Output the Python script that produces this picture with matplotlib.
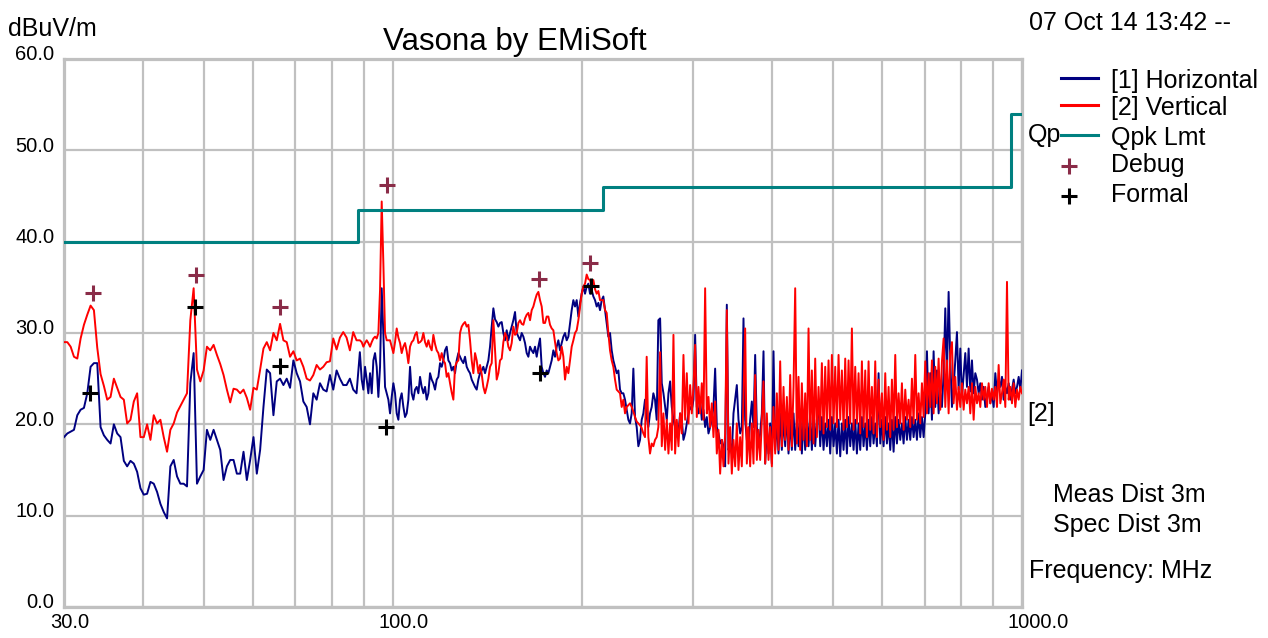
import numpy as np
import matplotlib
matplotlib.use("Agg")
import matplotlib.pyplot as plt
from matplotlib.lines import Line2D
from matplotlib.ticker import NullFormatter
import matplotlib.transforms as mtransforms

# ---- data ----
# sweep split in three bands, each sampled at even spacing on the log axis
band_edges = [(30.0, 88.6), (89.2, 264.2), (265.9, 1000.0)]

horiz_b1 = [18.6, 19.0, 19.2, 19.4, 21.0, 21.6, 21.8, 23.4, 26.3, 26.7,
            26.7, 19.7, 18.8, 18.3, 17.9, 20.0, 19.0, 18.6, 16.0, 15.4,
            16.0, 15.7, 14.8, 13.0, 12.3, 12.4, 13.7, 13.5, 12.6, 11.3,
            10.4, 9.7, 15.4, 16.1, 14.3, 13.5, 13.5, 13.2, 24.5, 27.8,
            13.5, 14.3, 15.0, 19.4, 18.3, 19.4, 18.3, 17.2, 13.9, 15.4,
            16.1, 16.1, 14.6, 14.6, 17.0, 13.9, 16.1, 18.6, 14.6, 17.2,
            21.9, 26.0, 25.6, 21.0, 24.7, 25.0, 24.3, 25.0, 24.0, 27.0,
            25.6, 24.7, 22.5, 21.9, 20.0, 23.4, 22.7, 24.5, 23.8, 23.6,
            25.4, 23.8, 25.9, 25.0, 24.3, 24.3, 25.0, 23.8, 23.4, 27.9]
horiz_b2 = [24.9, 23.8, 26.3, 24.9, 23.4, 25.6, 23.4, 27.0, 27.8, 26.3,
            23.0, 26.3, 34.9, 29.9, 24.1, 23.4, 22.7, 21.2, 23.0, 24.5,
            23.4, 21.2, 20.5, 22.7, 23.4, 21.9, 20.8, 21.2, 22.7, 26.3,
            23.4, 22.7, 23.8, 24.1, 23.4, 25.2, 24.1, 23.4, 24.1, 22.7,
            23.4, 25.6, 24.9, 24.5, 23.8, 24.9, 25.2, 26.7, 26.3, 27.0,
            28.1, 28.5, 27.0, 26.7, 25.9, 26.3, 25.6, 27.0, 27.8, 27.4,
            27.0, 26.7, 27.4, 26.3, 25.9, 25.6, 24.9, 24.5, 24.1, 23.8,
            24.9, 25.6, 25.9, 26.3, 25.6, 26.3, 27.0, 28.5, 30.7, 32.7,
            31.5, 31.2, 30.7, 31.1, 31.2, 30.0, 29.2, 30.3, 29.2, 30.0,
            30.7, 31.4, 32.3, 30.0, 29.6, 29.2, 30.0, 29.6, 28.9, 27.8,
            27.4, 28.5, 28.1, 27.8, 28.5, 27.4, 28.5, 29.4, 26.3, 25.6,
            25.2, 25.9, 25.6, 26.3, 27.0, 28.1, 27.4, 28.5, 29.2, 28.1,
            28.9, 29.6, 30.0, 29.2, 29.6, 31.1, 32.5, 33.6, 32.9, 33.6,
            31.8, 33.3, 34.3, 35.1, 34.3, 35.1, 35.4, 34.3, 34.7, 34.0,
            33.6, 32.9, 33.3, 32.5, 33.6, 34.0, 32.5, 31.1, 29.6, 30.0,
            28.1, 27.0, 26.3, 25.6, 25.9, 23.8, 23.4, 23.4, 22.7, 21.6,
            20.5, 20.1, 21.2, 26.1, 20.8, 19.7, 17.6, 18.3, 20.5, 21.2,
            22.7, 20.8, 19.7, 21.2, 21.9, 23.4, 22.7, 20.5, 31.4]
horiz_b3 = [31.6, 24.5, 23.4, 21.9, 20.5, 23.4, 24.7, 21.9, 20.5, 19.7,
            20.1, 19.0, 21.2, 20.5, 18.3, 19.0, 20.1, 21.2, 21.9, 21.6,
            22.7, 29.8, 21.9, 21.2, 22.7, 20.5, 21.6, 19.7, 20.8, 19.0,
            19.7, 20.5, 21.9, 26.1, 19.7, 19.0, 17.9, 18.3, 17.6, 15.4,
            33.1, 17.2, 17.9, 16.8, 21.2, 22.7, 24.3, 20.5, 19.0, 19.7,
            31.6, 20.5, 18.3, 17.6, 20.5, 22.5, 19.7, 27.6, 19.7, 17.6,
            19.0, 21.2, 28.0, 15.7, 19.4, 16.8, 20.1, 15.7, 28.0, 17.2,
            20.5, 16.8, 21.2, 17.2, 20.8, 17.6, 21.2, 16.8, 20.5, 17.2,
            21.2, 17.2, 20.5, 17.6, 21.6, 16.8, 20.8, 17.2, 21.2, 17.6,
            20.8, 17.2, 21.2, 17.6, 20.5, 22.3, 17.6, 20.8, 17.2, 20.1,
            17.6, 20.5, 16.8, 20.8, 17.6, 20.1, 16.8, 20.5, 16.5, 20.1,
            17.2, 20.5, 16.8, 20.8, 17.6, 20.1, 17.2, 20.5, 16.8, 20.1,
            17.2, 20.8, 17.6, 20.1, 17.2, 20.5, 17.6, 20.8, 17.9, 20.1,
            17.6, 25.6, 17.9, 20.5, 17.6, 20.8, 17.9, 20.1, 17.2, 20.5,
            17.0, 20.8, 17.9, 20.5, 18.3, 20.1, 17.9, 20.8, 18.3, 20.5,
            18.3, 20.8, 18.6, 20.5, 18.3, 21.2, 18.6, 20.8, 18.6, 21.2,
            28.0, 21.2, 25.6, 20.5, 28.0, 21.9, 25.9, 21.2, 23.4, 21.9,
            25.6, 32.7, 25.2, 34.5, 27.0, 21.9, 24.1, 27.0, 30.1, 23.8,
            28.3, 23.0, 25.4, 27.8, 24.1, 28.3, 23.6, 27.0, 23.4, 25.6,
            24.9, 23.4, 24.5, 22.7, 24.1, 21.9, 23.0, 24.1, 22.3, 23.4,
            21.9, 25.6, 23.4, 24.9, 24.1, 25.2, 22.7, 24.1, 23.4, 24.5,
            22.7, 23.8, 24.9, 23.4, 24.1, 25.2, 23.8, 25.9]

vert_b1 = [29.0, 29.0, 28.5, 27.4, 27.2, 29.4, 30.9, 32.0, 33.0, 32.5,
           28.4, 25.5, 24.2, 22.7, 23.0, 25.0, 24.0, 23.0, 22.7, 20.1,
           20.5, 22.5, 23.4, 18.6, 18.6, 20.0, 18.3, 21.0, 20.1, 20.5,
           18.6, 17.0, 19.4, 20.1, 21.3, 22.0, 22.7, 23.4, 31.4, 34.9,
           26.0, 24.7, 25.9, 28.5, 28.1, 28.7, 27.6, 26.6, 25.4, 23.8,
           22.4, 23.9, 23.8, 23.4, 23.8, 22.9, 21.6, 24.0, 23.8, 26.0,
           28.3, 29.0, 28.1, 30.0, 29.2, 31.0, 29.2, 29.0, 27.4, 28.0,
           27.0, 27.2, 26.3, 25.0, 24.8, 25.4, 26.5, 26.0, 26.3, 26.8,
           26.9, 29.4, 28.2, 29.5, 30.1, 29.5, 28.1, 30.1, 29.2, 29.2]
vert_b2 = [29.0, 28.5, 28.9, 29.2, 28.9, 28.5, 29.0, 29.4, 29.6, 29.4,
           30.0, 34.7, 44.4, 37.6, 30.0, 29.2, 29.2, 29.2, 28.5, 27.8,
           29.0, 30.5, 29.5, 28.9, 27.8, 28.5, 28.9, 28.0, 26.7, 28.5,
           29.0, 29.2, 29.8, 30.1, 28.9, 29.0, 29.2, 30.0, 29.0, 28.5,
           29.2, 28.5, 28.1, 29.8, 28.8, 28.1, 27.8, 27.0, 27.8, 27.0,
           26.7, 25.2, 25.6, 24.5, 23.5, 22.7, 26.3, 26.8, 27.0, 30.0,
           30.7, 31.0, 31.2, 30.7, 30.9, 29.2, 27.0, 25.6, 27.8, 27.0,
           25.6, 26.5, 25.5, 24.1, 23.4, 24.1, 25.0, 26.3, 26.7, 31.4,
           28.1, 24.9, 25.6, 27.0, 27.2, 29.0, 30.0, 29.6, 28.5, 28.1,
           28.9, 30.7, 29.8, 30.0, 31.1, 31.4, 31.0, 30.9, 31.6, 32.0,
           32.2, 31.4, 32.5, 32.9, 33.6, 34.2, 34.5, 33.6, 32.9, 31.1,
           31.1, 31.8, 31.8, 30.9, 30.5, 30.3, 29.0, 27.8, 27.0, 27.2,
           28.5, 27.4, 24.9, 26.3, 25.6, 27.0, 28.5, 29.2, 30.0, 30.3,
           31.4, 32.9, 34.3, 35.1, 35.4, 36.4, 35.9, 35.8, 35.1, 35.8,
           34.8, 34.3, 34.6, 33.6, 33.6, 33.6, 32.5, 32.2, 30.0, 28.1,
           27.0, 26.3, 24.9, 23.8, 23.6, 23.4, 21.9, 22.7, 21.2, 21.9,
           22.1, 22.3, 21.9, 21.4, 20.8, 20.3, 20.1, 19.9, 19.6, 19.0,
           18.6, 27.4, 18.6, 16.8, 17.9, 17.6, 18.3, 18.6, 19.7]
vert_b3 = [27.9, 17.6, 21.2, 17.2, 20.5, 16.8, 20.1, 17.2, 29.8, 16.8,
           20.5, 17.6, 21.2, 19.0, 27.6, 20.5, 25.6, 20.1, 24.3, 21.2,
           24.1, 28.7, 20.8, 24.1, 21.2, 24.5, 20.5, 34.9, 21.2, 23.0,
           19.7, 22.3, 18.6, 22.5, 16.8, 19.4, 14.6, 18.3, 15.4, 19.0,
           32.5, 15.7, 19.7, 14.6, 18.3, 15.4, 20.1, 15.0, 18.6, 15.4,
           23.0, 30.5, 15.7, 19.7, 15.4, 20.1, 15.7, 25.4, 16.1, 19.4,
           16.1, 20.5, 24.7, 15.7, 21.2, 16.1, 19.7, 15.4, 21.9, 16.8,
           23.4, 17.2, 26.9, 17.6, 24.1, 18.3, 23.0, 17.2, 25.4, 17.6,
           24.1, 34.9, 17.9, 25.2, 17.2, 24.5, 18.3, 23.4, 17.6, 30.5,
           18.3, 25.9, 17.9, 27.2, 18.6, 24.1, 19.4, 26.7, 19.0, 26.3,
           19.7, 27.0, 19.4, 27.6, 20.1, 26.3, 19.7, 27.6, 20.5, 25.9,
           19.4, 27.2, 19.7, 27.0, 20.1, 30.5, 19.4, 26.3, 20.1, 25.6,
           19.0, 26.9, 19.7, 25.9, 18.6, 26.9, 19.4, 24.1, 19.0, 26.9,
           18.6, 24.9, 19.7, 23.4, 18.3, 25.6, 19.4, 24.1, 18.6, 24.9,
           19.4, 27.6, 19.7, 23.4, 20.1, 24.5, 19.4, 23.8, 20.5, 22.7,
           19.7, 25.0, 20.1, 27.6, 20.5, 23.4, 20.1, 24.5, 20.8, 26.9,
           21.2, 25.6, 21.9, 27.0, 21.2, 26.3, 22.3, 27.2, 21.6, 26.9,
           29.4, 21.9, 27.0, 21.2, 27.8, 29.0, 22.3, 25.2, 21.6, 24.1,
           21.9, 24.5, 21.6, 23.8, 22.3, 24.1, 21.2, 24.5, 20.5, 24.1,
           22.3, 23.4, 21.9, 24.5, 22.7, 24.1, 21.9, 24.5, 22.3, 23.9,
           22.7, 24.1, 21.9, 26.5, 22.3, 23.4, 24.9, 21.9, 35.6, 22.7,
           24.1, 22.3, 24.5, 21.9, 23.8, 22.7, 24.1, 23.4]

# quasi-peak limit (FCC class B, 3 m)
limit_freq = [30, 88, 216, 960, 1000]
limit_val = [40.0, 43.5, 46.0, 54.0, 54.0]

debug_freq = [33.3, 48.6, 66.2, 97.7, 170.9, 205.8]
debug_val = [34.4, 36.3, 32.9, 46.2, 35.9, 37.7]
formal_freq = [33.0, 48.4, 66.2, 97.5, 171.5, 206.3]
formal_val = [23.4, 32.9, 26.4, 19.7, 25.6, 35.1]

y_ticks = [0, 10, 20, 30, 40, 50, 60]
y_tick_labels = ["0.0", "10.0", "20.0", "30.0", "40.0", "50.0", "60.0"]
x_ticks = [30, 100, 1000]
x_tick_labels = ["30.0", "100.0", "1000.0"]
x_minor = [40, 50, 60, 70, 80, 90, 200, 300, 400, 500, 600, 700, 800, 900]

legend_labels = ["[1] Horizontal", "[2] Vertical", "Qpk Lmt", "Debug", "Formal"]


def band_freqs(bands, counts):
    out = []
    for (f0, f1), n in zip(bands, counts):
        out.append(np.geomspace(f0, f1, n))
    return np.concatenate(out)


horiz = np.array(horiz_b1 + horiz_b2 + horiz_b3)
vert = np.array(vert_b1 + vert_b2 + vert_b3)
freq = band_freqs(band_edges, [len(horiz_b1), len(horiz_b2), len(horiz_b3)])

# ---- styling ----
W, H = 1268, 638
NAVY, RED, TEAL = "#000080", "#ff0000", "#008080"
DEBUG_C, FORMAL_C = "#8a2c48", "#000000"
GRID_C = "#c0c0c0"
plt.rcParams["font.family"] = ["Liberation Sans", "DejaVu Sans"]
TXT = 18


def fx(x):
    return x / W


def fy(y):
    return 1 - y / H


fig = plt.figure(figsize=(W / 100, H / 100), dpi=100)
fig.patch.set_facecolor("white")
ax = fig.add_axes([fx(64), fy(607), (1022 - 64) / W, (607 - 59) / H])

ax.set_xscale("log")
ax.set_xlim(30, 1000)
ax.set_ylim(0, 60)

ax.plot(freq, horiz, color=NAVY, lw=1.4, zorder=3)
ax.plot(freq, vert, color=RED, lw=1.4, zorder=4)
ax.plot(limit_freq, limit_val, color=TEAL, lw=2.2, drawstyle="steps-post", zorder=5)
ax.plot(debug_freq, debug_val, ls="none", marker="+", ms=11.5, mew=2.2,
        color=DEBUG_C, zorder=6)
ax.plot(formal_freq, formal_val, ls="none", marker="+", ms=11.5, mew=2.2,
        color=FORMAL_C, zorder=6)

ax.set_xticks(x_ticks)
ax.set_xticklabels(x_tick_labels, ha="left")
ax.set_xticks(x_minor, minor=True)
ax.xaxis.set_minor_formatter(NullFormatter())
ax.set_yticks(y_ticks)
ax.set_yticklabels(y_tick_labels)
ax.tick_params(which="both", length=0, labelsize=14.5)
ax.tick_params(axis="y", pad=7)
ax.tick_params(axis="x", pad=4)
ax.grid(True, which="both", axis="x", color=GRID_C, lw=1.6, zorder=0)
ax.grid(True, which="major", axis="y", color=GRID_C, lw=1.6, zorder=0)
ax.set_axisbelow(True)
for sp in ax.spines.values():
    sp.set_color(GRID_C)
    sp.set_linewidth(2.3)

# y labels sit a little above their grid lines, x labels start left of theirs
up = mtransforms.ScaledTranslation(0, 6 / 100, fig.dpi_scale_trans)
for lab in ax.get_yticklabels():
    lab.set_transform(lab.get_transform() + up)
left = mtransforms.ScaledTranslation(-14 / 100, 0, fig.dpi_scale_trans)
for lab in ax.get_xticklabels():
    lab.set_transform(lab.get_transform() + left)

# ---- texts ----
fig.text(fx(515), fy(50), "Vasona by EMiSoft", ha="center", va="baseline", fontsize=22.5)
fig.text(fx(8), fy(36), "dBuV/m", ha="left", va="baseline", fontsize=TXT)
fig.text(fx(1029), fy(30), "07 Oct 14 13:42 --", ha="left", va="baseline", fontsize=TXT)
fig.text(fx(1028), fy(142), "Qp", ha="left", va="baseline", fontsize=TXT)
fig.text(fx(1027), fy(421), "[2]", ha="left", va="baseline", fontsize=TXT)
fig.text(fx(1053), fy(502), "Meas Dist 3m", ha="left", va="baseline", fontsize=TXT)
fig.text(fx(1053), fy(532), "Spec Dist 3m", ha="left", va="baseline", fontsize=TXT)
fig.text(fx(1029), fy(578), "Frequency: MHz", ha="left", va="baseline", fontsize=TXT)

# ---- legend (drawn by hand to match the tight row spacing) ----
row_y = [78, 105, 135, 166, 196]
text_base = [88, 115, 145, 172, 202]
for i, lab in enumerate(legend_labels):
    if i < 3:
        col = [NAVY, RED, TEAL][i]
        fig.add_artist(Line2D([fx(1061), fx(1098)], [fy(row_y[i])] * 2,
                              color=col, lw=2.2, transform=fig.transFigure))
    else:
        col = [DEBUG_C, FORMAL_C][i - 3]
        fig.add_artist(Line2D([fx(1069)], [fy(row_y[i])], ls="none", marker="+",
                              ms=11.5, mew=2.2, color=col, transform=fig.transFigure))
    fig.text(fx(1111), fy(text_base[i]), lab, ha="left", va="baseline", fontsize=TXT)

fig.savefig("out.png", dpi=100, facecolor="white")
